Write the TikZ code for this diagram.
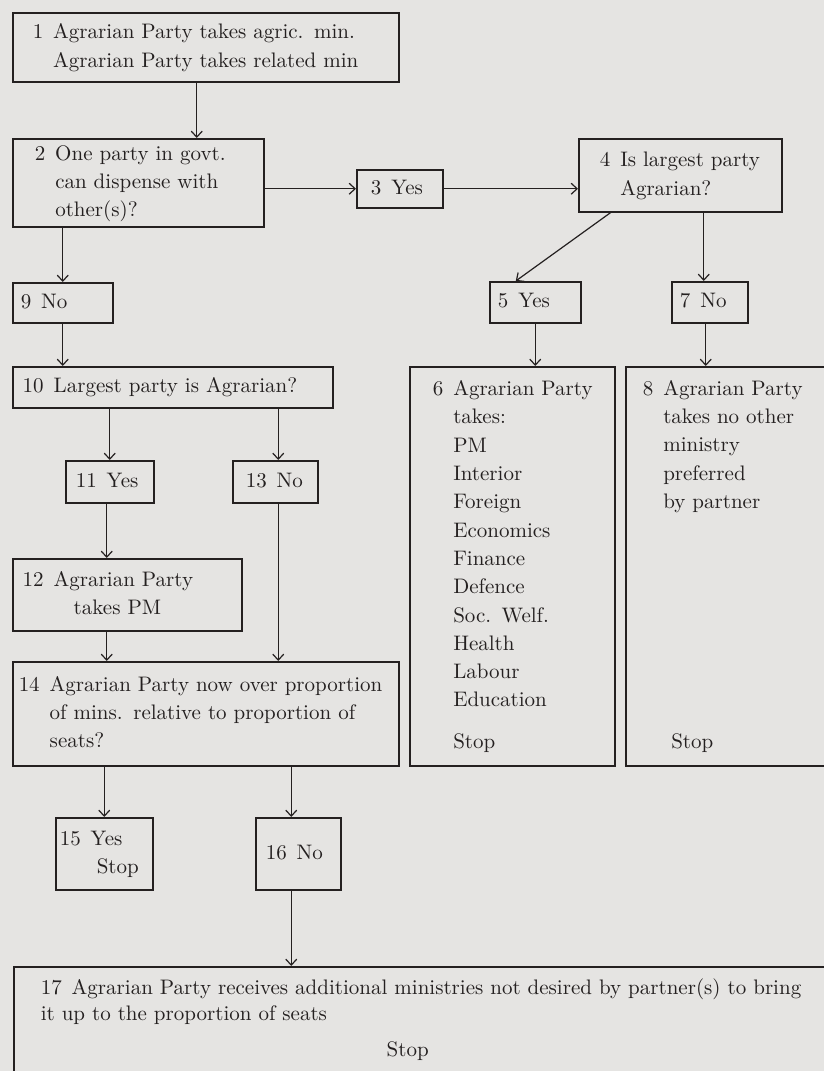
\documentclass[tikz,border=0pt]{standalone}
\usepackage{fontspec}
\usepackage{tikz}
\usetikzlibrary{arrows.meta}

\newfontfamily\boxfont{lmroman10-regular.otf}
\definecolor{paper}{RGB}{229,228,226}
\definecolor{ink}{RGB}{36,32,32}

% number in the first column, text in the second
\newenvironment{flowtext}{\begin{tabular}{@{}l@{\hspace{10pt}}l@{}}}{\end{tabular}}

\begin{document}
\begin{tikzpicture}[x=1pt,y=-1pt,
  box/.style={draw=ink, line width=1.5pt, anchor=north west, align=left,
    inner ysep=0pt, text=ink, font=\boxfont\fontsize{21}{28.3}\selectfont},
  arr/.style={draw=ink, line width=1.2pt, -{Straight Barb[length=6pt,width=11pt]}}]

\useasboundingbox (0,0) rectangle (824,1071);
\fill[paper] (0,0) rectangle (824,1071);
\clip (0,0) rectangle (824,1071);

% first row
\node[box, text width=346pt, inner xsep=20pt, minimum height=69pt] (b1) at (12,12)
  {\begin{flowtext}1 & Agrarian Party takes agric. min.\\ & Agrarian Party takes related min\end{flowtext}};
\node[box, text width=207pt, inner xsep=22pt, minimum height=88pt] (b2) at (12,138)
  {\begin{flowtext}2 & One party in govt.\\ & can dispense with\\ & other(s)?\end{flowtext}};
\node[box, text width=58pt, inner xsep=14pt, minimum height=38pt] (b3) at (356,169)
  {\begin{flowtext}3 & Yes\end{flowtext}};
\node[box, text width=161pt, inner xsep=21pt, minimum height=73pt] (b4) at (578,138)
  {\begin{flowtext}4 & Is largest party\\ & Agrarian?\end{flowtext}};

% yes / no boxes
\node[box, text width=84pt, inner xsep=8pt, minimum height=40pt] (b9) at (12,282)
  {\begin{flowtext}9 & No\end{flowtext}};
\node[box, text width=75pt, inner xsep=8pt, minimum height=41pt] (b5) at (489,281)
  {\begin{flowtext}5 & Yes\end{flowtext}};
\node[box, text width=60pt, inner xsep=8pt, minimum height=41pt] (b7) at (671,281)
  {\begin{flowtext}7 & No\end{flowtext}};

% largest party and the two end boxes
\node[box, text width=300pt, inner xsep=10pt, minimum height=41pt] (b10) at (12,366)
  {\begin{flowtext}10 & Largest party is Agrarian?\end{flowtext}};
\node[box, text width=159pt, inner xsep=23pt, minimum height=399pt] (b6) at (409,366)
  {\begin{flowtext}6 & Agrarian Party\\ & takes:\\ & PM\\ & Interior\\ & Foreign\\
    & Economics\\ & Finance\\ & Defence\\ & Soc. Welf.\\ & Health\\ & Labour\\
    & Education\\[13pt] & Stop\end{flowtext}};
\node[box, text width=181pt, inner xsep=17pt, minimum height=399pt] (b8) at (625,366)
  {\begin{flowtext}8 & Agrarian Party\\ & takes no other\\ & ministry\\ & preferred\\
    & by partner\\[212pt] & \hspace*{8pt}Stop\end{flowtext}};

\node[box, text width=68pt, inner xsep=10pt, minimum height=42pt] (b11) at (65,460)
  {\begin{flowtext}11 & Yes\end{flowtext}};
\node[box, text width=59pt, inner xsep=13pt, minimum height=42pt] (b13) at (232,460)
  {\begin{flowtext}13 & No\end{flowtext}};
\node[box, text width=209pt, inner xsep=10pt, minimum height=72pt] (b12) at (12,558)
  {\begin{flowtext}12 & Agrarian Party\\ & \hspace*{20pt}takes PM\end{flowtext}};
\node[box, text width=374pt, inner xsep=6pt, minimum height=104pt] (b14) at (12,661)
  {\begin{flowtext}14 & Agrarian Party now over proportion\\ & of mins. relative to proportion of\\ & seats?\end{flowtext}};

\node[box, text width=89pt, inner xsep=4pt, minimum height=72pt] (b15) at (55,817)
  {\begin{flowtext}15 & Yes\\ & \hspace*{6pt}Stop\end{flowtext}};
\node[box, text width=65pt, inner xsep=10pt, minimum height=72pt] (b16) at (255,817)
  {\begin{flowtext}16 & No\end{flowtext}};
\node[box, text width=776pt, inner xsep=27pt, minimum height=106pt] (b17) at (13,966)
  {\fontsize{21}{26}\selectfont
   \mbox{17\hspace{10pt}Agrarian Party receives additional ministries not desired by partner(s) to bring}\\
   it up to the proportion of seats\\[8pt]
   \hspace*{346pt}Stop};

% connectors
\draw[arr] ([xshift=-9pt]b1.south) -- ([xshift=-9pt]b1.south |- b2.north);
\draw[arr] (b2.east |- b3.west) -- (b3.west);
\draw[arr] (b3.east) -- (b3.east -| b4.west);
\draw[arr] (b2.south -| b9.north) -- (b9.north);
\draw[arr] ([xshift=-69.5pt]b4.south) -- ([xshift=-19.5pt]b5.north);
\draw[arr] ([xshift=-6pt]b7.north |- b4.south) -- ([xshift=-6pt]b7.north);
\draw[arr] (b9.south) -- (b9.south |- b10.north);
\draw[arr] (b5.south) -- (b5.south |- b6.north);
\draw[arr] ([xshift=-4pt]b7.south) -- ([xshift=-4pt]b7.south |- b8.north);
\draw[arr] (b11.north |- b10.south) -- (b11.north);
\draw[arr] ([xshift=3pt]b13.north |- b10.south) -- ([xshift=3pt]b13.north);
\draw[arr] ([xshift=-3pt]b11.south) -- ([xshift=-3pt]b11.south |- b12.north);
\draw[arr] ([xshift=3pt]b13.south) -- ([xshift=3pt]b13.south |- b14.north);
\draw[arr] ([xshift=-3pt]b11.south |- b12.south) -- ([xshift=-3pt]b11.south |- b14.north);
\draw[arr] (b15.north |- b14.south) -- (b15.north);
\draw[arr] ([xshift=-7pt]b16.north |- b14.south) -- ([xshift=-7pt]b16.north);
\draw[arr] ([xshift=-7pt]b16.south) -- ([xshift=-7pt]b16.south |- b17.north);

\end{tikzpicture}
\end{document}
